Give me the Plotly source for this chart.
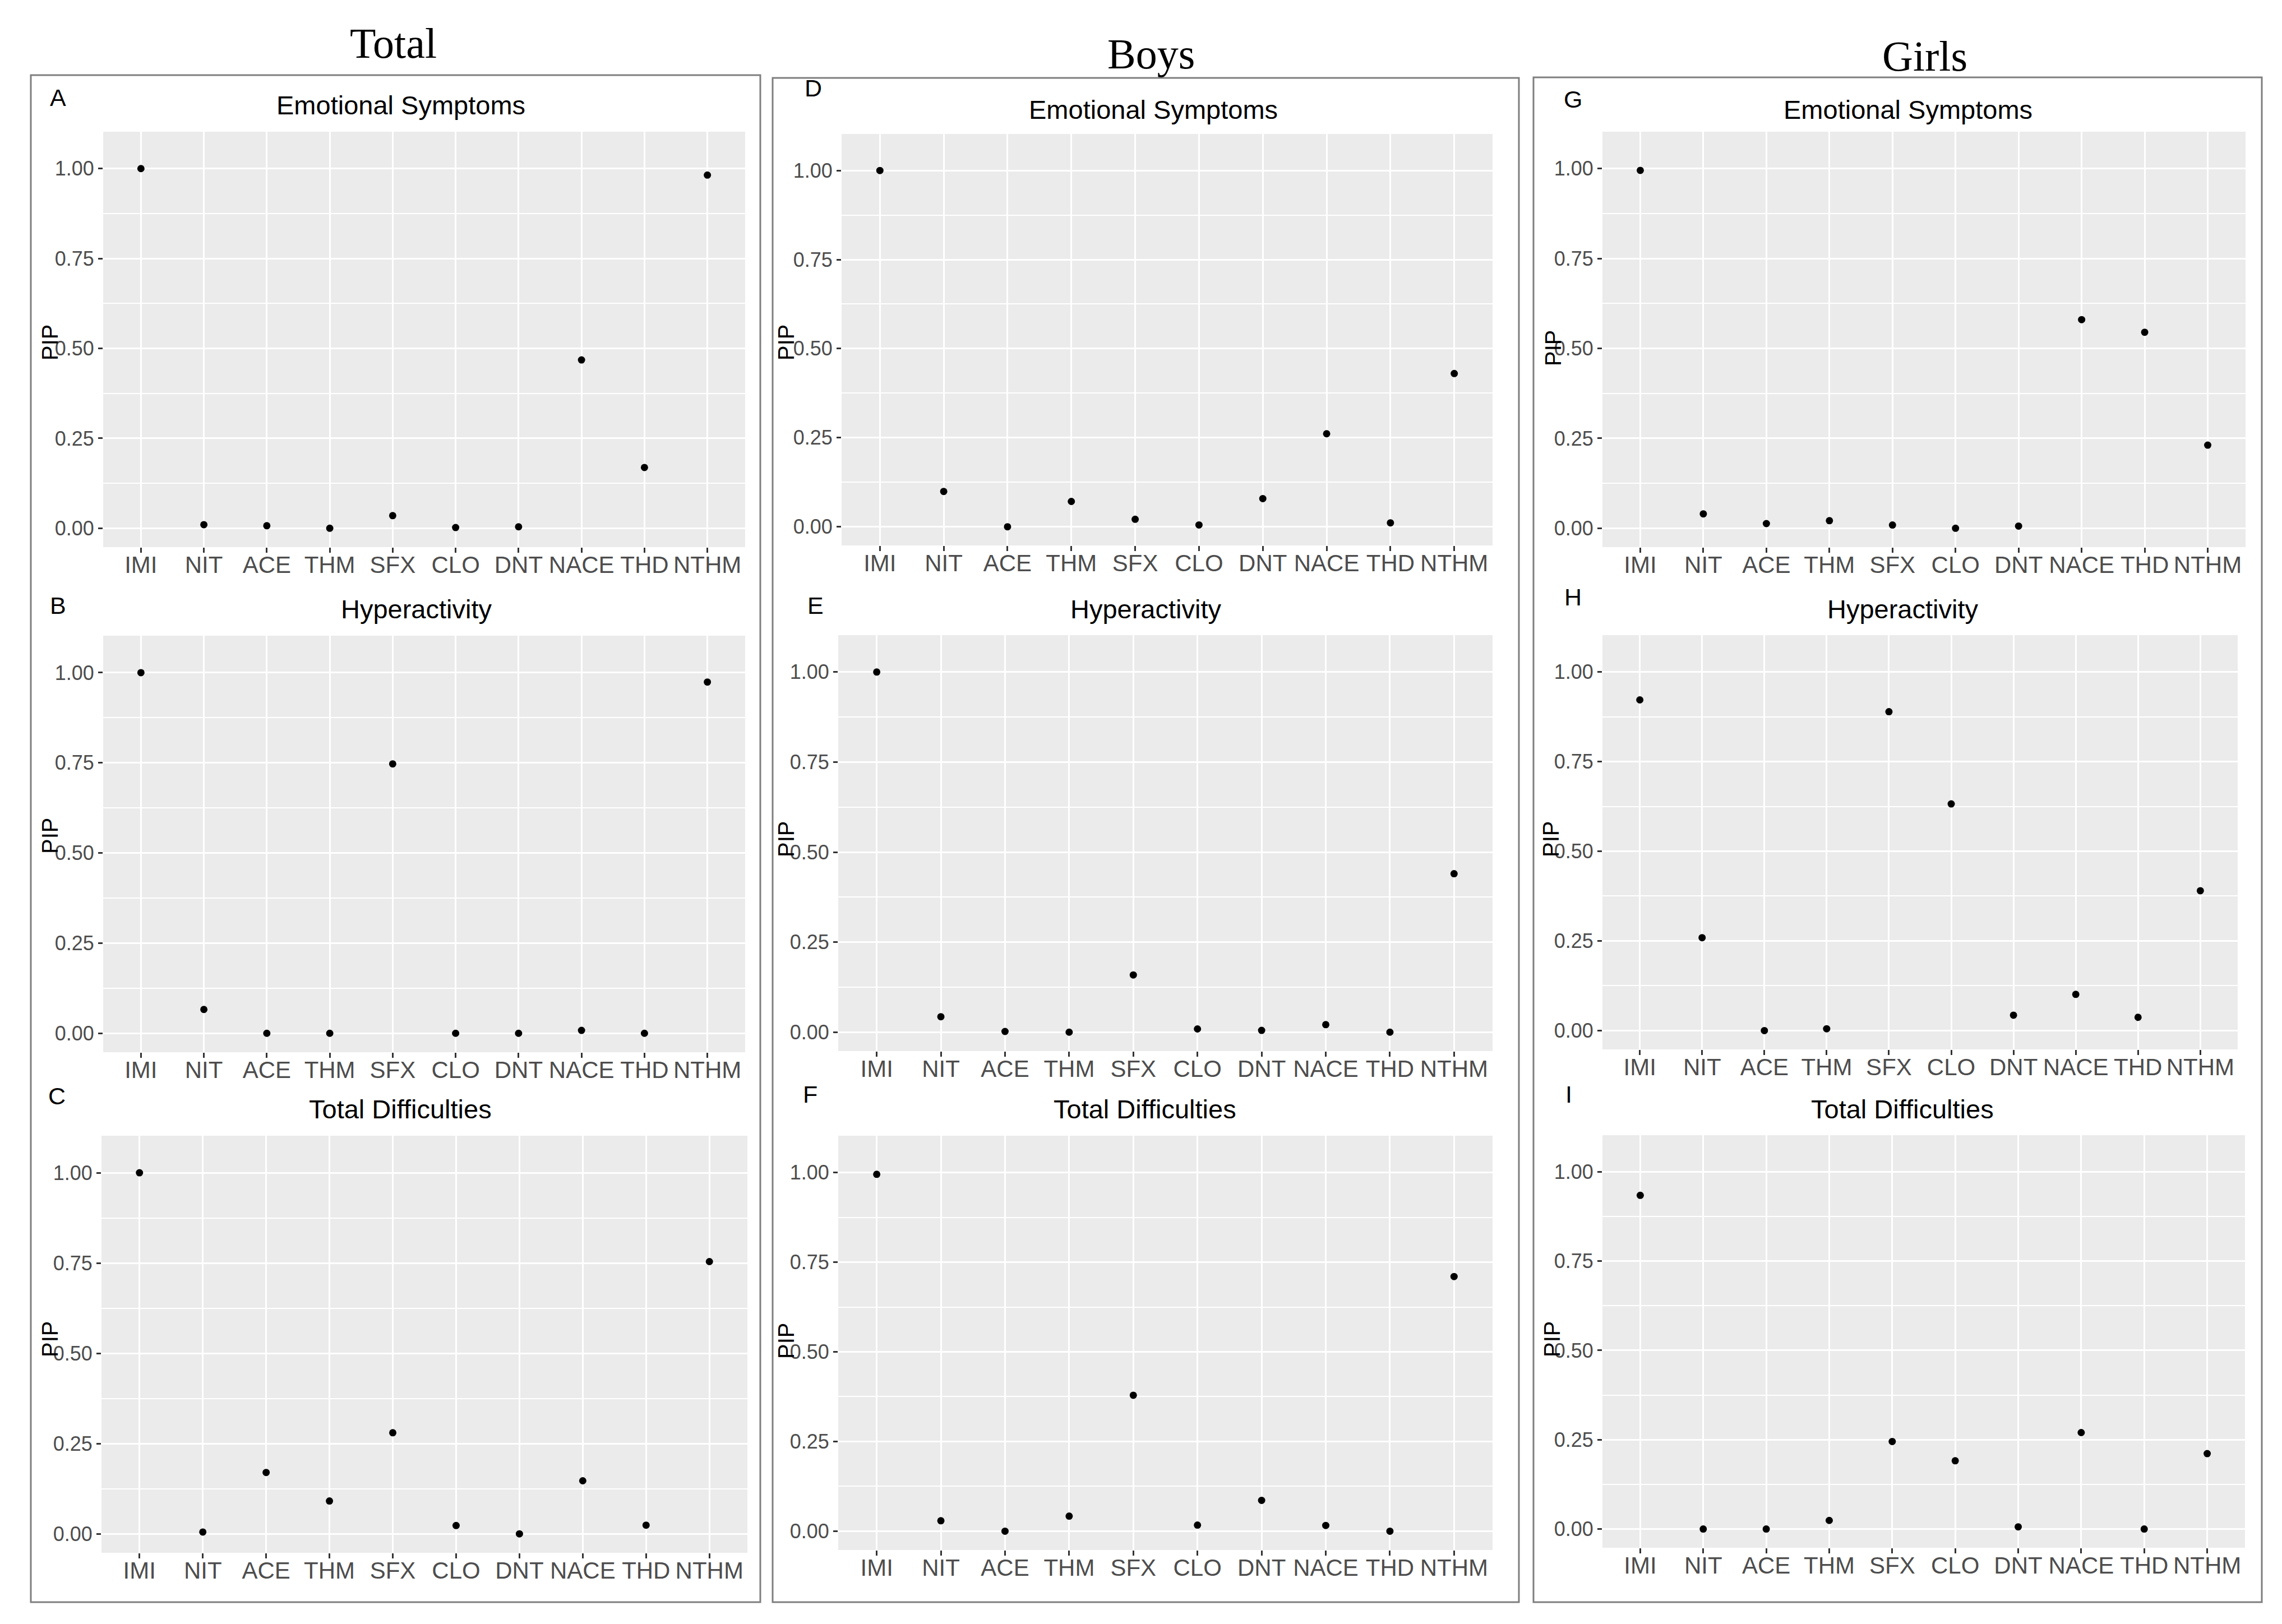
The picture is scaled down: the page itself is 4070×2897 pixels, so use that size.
import plotly.graph_objects as go

# ---------------- data ----------------
categories = ["IMI", "NIT", "ACE", "THM", "SFX", "CLO", "DNT", "NACE", "THD", "NTHM"]

total_emotional    = [1.000, 0.010, 0.007, 0.000, 0.035, 0.002, 0.004, 0.468, 0.169, 0.982]
total_hyper        = [1.000, 0.066, 0.000, 0.000, 0.747, 0.000, 0.000, 0.008, 0.000, 0.974]
total_difficulties = [1.000, 0.005, 0.170, 0.091, 0.280, 0.023, 0.000, 0.147, 0.024, 0.754]

boys_emotional     = [1.000, 0.099, 0.000, 0.071, 0.021, 0.005, 0.079, 0.261, 0.011, 0.430]
boys_hyper         = [1.000, 0.043, 0.002, 0.000, 0.159, 0.009, 0.005, 0.021, 0.000, 0.440]
boys_difficulties  = [0.995, 0.029, 0.000, 0.042, 0.379, 0.017, 0.086, 0.016, 0.000, 0.710]

girls_emotional    = [0.995, 0.040, 0.013, 0.021, 0.009, 0.000, 0.006, 0.580, 0.545, 0.231]
girls_hyper        = [0.922, 0.259, 0.000, 0.005, 0.889, 0.632, 0.043, 0.101, 0.037, 0.390]
girls_difficulties = [0.934, 0.000, 0.000, 0.024, 0.245, 0.191, 0.006, 0.270, 0.000, 0.211]

column_titles = ["Total", "Boys", "Girls"]
panel_letters = ["A", "B", "C", "D", "E", "F", "G", "H", "I"]
outcome_titles = ["Emotional Symptoms", "Hyperactivity", "Total Difficulties"]
y_ticks = [0.0, 0.25, 0.5, 0.75, 1.0]
y_tick_labels = ["0.00", "0.25", "0.50", "0.75", "1.00"]
y_axis_title = "PIP"

series = [total_emotional, total_hyper, total_difficulties,
          boys_emotional, boys_hyper, boys_difficulties,
          girls_emotional, girls_hyper, girls_difficulties]

# ---------------- layout (pixels of a 4070x2897 canvas) ----------------
W, H = 4070, 2897
def px(x):
    return x / W
def py(y):
    return 1 - y / H

# plot areas: (x0, x1, y0, y1) in pixels, order A,B,C,D,E,F,G,H,I
areas = [
    (176, 1321, 227, 968), (176, 1321, 1126, 1869), (173, 1325, 2018, 2762),
    (1493, 2654, 231, 965), (1487, 2654, 1125, 1867), (1487, 2654, 2018, 2757),
    (2850, 3997, 227, 968), (2850, 3983, 1125, 1864), (2850, 3996, 2017, 2753),
]
letter_pos = [(95, 166), (95, 1072), (93, 1947),
              (1442, 149), (1446, 1072), (1437, 1944),
              (2797, 169), (2797, 1057), (2790, 1944)]
subtitle_pos = [(707, 179), (735, 1078), (706, 1970),
                (2049, 188), (2036, 1078), (2034, 1970),
                (3395, 188), (3386, 1078), (3385, 1970)]
pip_pos = [(81, 603), (81, 1483), (81, 2381),
           (1394, 603), (1394, 1489), (1394, 2384),
           (2762, 613), (2758, 1489), (2760, 2381)]
boxes = [(47, 1348, 126, 2850), (1370, 2701, 131, 2850), (2727, 4026, 130, 2850)]
col_title_pos = [(693, 69), (2045, 88), (3425, 92)]

SANS = "Liberation Sans, Arial, sans-serif"
SERIF = "Liberation Serif, Times New Roman, serif"

fig = go.Figure()
layout = dict(
    width=W, height=H,
    margin=dict(l=0, r=0, t=0, b=0),
    paper_bgcolor="white",
    plot_bgcolor="#EBEBEB",
    showlegend=False,
    annotations=[],
    shapes=[],
)

for i, vals in enumerate(series):
    n = i + 1
    xa = "x" if n == 1 else f"x{n}"
    ya = "y" if n == 1 else f"y{n}"
    fig.add_trace(go.Scatter(
        x=categories, y=vals, mode="markers",
        marker=dict(color="black", size=13),
        xaxis=xa, yaxis=ya, hoverinfo="x+y",
    ))
    x0, x1, y0, y1 = areas[i]
    layout["xaxis" if n == 1 else f"xaxis{n}"] = dict(
        domain=[px(x0), px(x1)], anchor=ya,
        type="category", categoryorder="array", categoryarray=categories,
        range=[-0.6, len(categories) - 0.4],
        showgrid=True, gridcolor="white", gridwidth=3,
        zeroline=False, showline=False,
        ticks="outside", ticklen=9, tickwidth=2.5, tickcolor="#333333",
        ticklabelstandoff=-14,
        tickfont=dict(family=SANS, size=42, color="#4D4D4D"),
    )
    layout["yaxis" if n == 1 else f"yaxis{n}"] = dict(
        domain=[py(y1), py(y0)], anchor=xa,
        range=[-0.0525, 1.1025],
        tickvals=y_ticks, ticktext=y_tick_labels,
        showgrid=True, gridcolor="white", gridwidth=3,
        minor=dict(tickvals=[0.125, 0.375, 0.625, 0.875], showgrid=True,
                   gridcolor="white", gridwidth=1.5, ticks=""),
        zeroline=False, showline=False,
        ticks="outside", ticklen=8, tickwidth=2.5, tickcolor="#333333",
        tickfont=dict(family=SANS, size=36, color="#4D4D4D"),
    )
    lx, ly = letter_pos[i]
    layout["annotations"].append(dict(
        text=panel_letters[i], x=px(lx), y=py(ly), xref="paper", yref="paper",
        showarrow=False, xanchor="center", yanchor="middle",
        font=dict(family=SANS, size=43, color="black")))
    sx, sy = subtitle_pos[i]
    layout["annotations"].append(dict(
        text=outcome_titles[i % 3], x=px(sx), y=py(sy), xref="paper", yref="paper",
        showarrow=False, xanchor="center", yanchor="middle",
        font=dict(family=SANS, size=47, color="black")))
    qx, qy = pip_pos[i]
    layout["annotations"].append(dict(
        text=y_axis_title, x=px(qx), y=py(qy), xref="paper", yref="paper",
        showarrow=False, xanchor="center", yanchor="middle", textangle=-90,
        font=dict(family=SANS, size=40, color="black")))

for (bx0, bx1, by0, by1) in boxes:
    layout["shapes"].append(dict(
        type="rect", xref="paper", yref="paper",
        x0=px(bx0), x1=px(bx1), y0=py(by1), y1=py(by0),
        line=dict(color="#7F7F7F", width=3), fillcolor="rgba(0,0,0,0)", layer="above"))

for t, (tx, ty) in zip(column_titles, col_title_pos):
    layout["annotations"].append(dict(
        text=t, x=px(tx), y=py(ty), xref="paper", yref="paper",
        showarrow=False, xanchor="center", yanchor="middle",
        font=dict(family=SERIF, size=76, color="black")))

fig.update_layout(**layout)
fig.write_html("out.html")
